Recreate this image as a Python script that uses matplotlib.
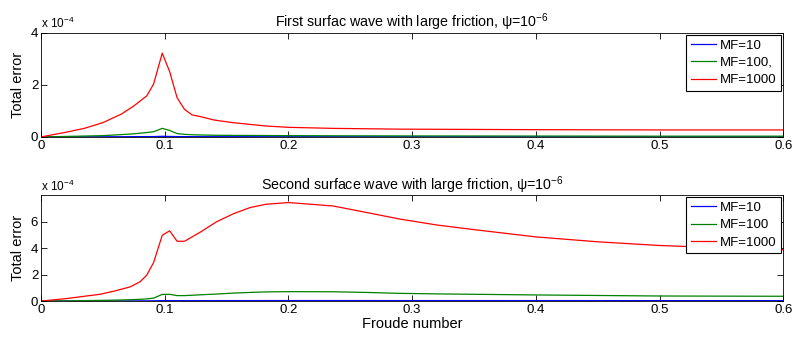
import matplotlib
matplotlib.use("Agg")
import matplotlib.pyplot as plt

plt.rcParams['font.family'] = ['Liberation Sans', 'DejaVu Sans']
plt.rcParams['mathtext.fontset'] = 'custom'
plt.rcParams['mathtext.rm'] = 'Liberation Sans'
plt.rcParams['mathtext.it'] = 'Liberation Sans:italic'

# 上图数据 (单位 1e-4)
froude_top = [0, 0.02, 0.035, 0.05, 0.065, 0.075, 0.0855, 0.091, 0.098, 0.104,
              0.11, 0.116, 0.122, 0.129, 0.14, 0.155, 0.182, 0.2, 0.236, 0.29,
              0.4, 0.5, 0.6]
mf10_top = [0, 0.003, 0.005, 0.007, 0.009, 0.011, 0.013, 0.015, 0.025, 0.02,
            0.015, 0.013, 0.012, 0.011, 0.01, 0.01, 0.009, 0.009, 0.008, 0.008,
            0.007, 0.007, 0.007]
mf100_top = [0, 0.02, 0.035, 0.05, 0.09, 0.12, 0.17, 0.2, 0.33, 0.25,
             0.13, 0.1, 0.085, 0.075, 0.065, 0.06, 0.055, 0.05, 0.045, 0.04,
             0.035, 0.03, 0.03]
mf1000_top = [0, 0.18, 0.33, 0.55, 0.88, 1.19, 1.58, 2.03, 3.22, 2.51,
              1.51, 1.06, 0.85, 0.78, 0.65, 0.55, 0.42, 0.37, 0.33, 0.3,
              0.28, 0.27, 0.27]

# 下图数据 (单位 1e-4)
froude_bot = [0, 0.02, 0.035, 0.0477, 0.06, 0.072, 0.08, 0.0855, 0.091, 0.098,
              0.104, 0.11, 0.116, 0.1286, 0.142, 0.1555, 0.169, 0.182, 0.2, 0.236,
              0.263, 0.29, 0.32, 0.35, 0.4, 0.45, 0.5, 0.55, 0.6]
mf10_bot = [0, 0.002, 0.004, 0.006, 0.008, 0.01, 0.012, 0.014, 0.018, 0.03,
            0.03, 0.028, 0.028, 0.03, 0.032, 0.034, 0.035, 0.036, 0.037, 0.037,
            0.036, 0.035, 0.035, 0.034, 0.033, 0.032, 0.031, 0.03, 0.03]
mf100_bot = [0, 0.01, 0.03, 0.05, 0.07, 0.1, 0.13, 0.16, 0.22, 0.5,
             0.51, 0.41, 0.41, 0.47, 0.53, 0.6, 0.65, 0.69, 0.71, 0.7,
             0.65, 0.58, 0.54, 0.51, 0.46, 0.42, 0.38, 0.37, 0.36]
mf1000_bot = [0, 0.18, 0.36, 0.51, 0.77, 1.07, 1.45, 1.96, 2.91, 4.97,
              5.31, 4.52, 4.52, 5.2, 6.0, 6.6, 7.07, 7.32, 7.45, 7.19,
              6.7, 6.2, 5.75, 5.4, 4.85, 4.48, 4.2, 4.03, 3.88]

x_ticks = [0, 0.1, 0.2, 0.3, 0.4, 0.5, 0.6]
x_tick_labels = ['0', '0.1', '0.2', '0.3', '0.4', '0.5', '0.6']

fig = plt.figure(figsize=(7.94, 3.39), dpi=100)
ax1 = fig.add_axes([0.0516, 0.596, 0.935, 0.307])
ax2 = fig.add_axes([0.0516, 0.112, 0.935, 0.312])


def draw_panel(ax, froude, series, labels, title, ylim, yticks):
    colors = ['#0000ff', '#008000', '#ff0000']
    for vals, lab, c in zip(series, labels, colors):
        ax.plot(froude, vals, color=c, lw=0.9, label=lab)
    ax.set_xlim(0, 0.6)
    ax.set_ylim(*ylim)
    ax.set_xticks(x_ticks)
    ax.set_xticklabels(x_tick_labels)
    ax.set_yticks(yticks)
    ax.set_yticklabels([str(t) for t in yticks])
    ax.tick_params(direction='in', top=True, right=True, length=4,
                   labelsize=9.5, width=0.6, pad=2)
    for sp in ax.spines.values():
        sp.set_linewidth(0.6)
    ax.set_ylabel('Total error', fontsize=10.5, labelpad=4)
    ax.set_title(title, fontsize=10.3, pad=4)
    ax.text(0, 1.015, r'x 10$^{-4}$', transform=ax.transAxes,
            fontsize=8.5, ha='left', va='bottom')
    leg = ax.legend(loc='upper right', fontsize=9.5, fancybox=False,
                    edgecolor='black', framealpha=1, borderpad=0.35,
                    labelspacing=0.38, handlelength=1.9, handletextpad=0.3,
                    borderaxespad=0.15)
    leg.get_frame().set_linewidth(0.8)


draw_panel(ax1, froude_top, [mf10_top, mf100_top, mf1000_top],
           ['MF=10', 'MF=100,', 'MF=1000'],
           'First surfac wave with large friction, ψ=10$^{-6}$',
           (0, 4), [0, 2, 4])
draw_panel(ax2, froude_bot, [mf10_bot, mf100_bot, mf1000_bot],
           ['MF=10', 'MF=100', 'MF=1000'],
           'Second surface wave with large friction, ψ=10$^{-6}$',
           (0, 8), [0, 2, 4, 6])
ax2.set_xlabel('Froude number', fontsize=10.5, labelpad=1)

fig.savefig('out.png', dpi=100)
